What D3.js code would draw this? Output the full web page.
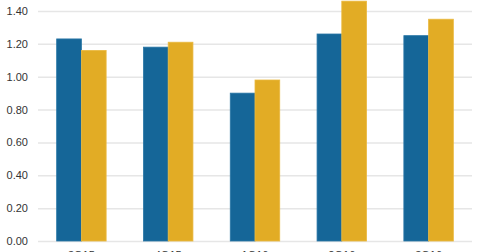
<!DOCTYPE html>
<html>
<head>
<meta charset="utf-8">
<script src="https://cdn.jsdelivr.net/npm/d3@7"></script>
<style>
  body { margin: 0; background: #fff; }
  .label { font-family: Arial, "Liberation Sans", sans-serif; font-size: 11px; fill: #333; }
</style>
</head>
<body>
<div id="chart"></div>
<script>
const quarters = ["3Q15", "4Q15", "1Q16", "2Q16", "3Q16"];
const seriesA = [1.23, 1.18, 0.90, 1.26, 1.25];
const seriesB = [1.16, 1.21, 0.98, 1.46, 1.35];
const yTicks = [0, 0.2, 0.4, 0.6, 0.8, 1.0, 1.2, 1.4];
const colors = ["#156698", "#e2ac25"];

const width = 480, height = 252;
const margin = { top: 11, right: 8, bottom: 11, left: 38 };

const svg = d3.select("#chart")
    .append("svg")
    .attr("width", width)
    .attr("height", height);

const x = d3.scaleBand()
    .domain(quarters)
    .range([margin.left, width - margin.right])
    .paddingInner(0.43)
    .paddingOuter(0.215);

const sub = d3.scaleBand()
    .domain([0, 1])
    .range([0, x.bandwidth()]);

const y = d3.scaleLinear()
    .domain([0, 1.4])
    .range([height - margin.bottom, margin.top]);

// grid + y labels
const yAxis = g => g
    .attr("transform", `translate(${margin.left},0)`)
    .call(d3.axisLeft(y).tickValues(yTicks).tickFormat(d3.format(".2f")).tickSize(-(width - margin.left - margin.right)).tickPadding(10))
    .call(g => g.select(".domain").remove())
    .call(g => g.selectAll(".tick line").attr("stroke", "#e6e6e6").attr("stroke-width", 1.5))
    .call(g => g.selectAll(".tick text").attr("class", "label"));

svg.append("g").call(yAxis);

const rows = quarters.map((q, i) => ({ q, vals: [seriesA[i], seriesB[i]] }));

svg.append("g")
    .selectAll("g")
    .data(rows)
    .join("g")
    .attr("transform", d => `translate(${x(d.q)},0)`)
    .selectAll("rect")
    .data(d => d.vals.map((v, k) => ({ v, k })))
    .join("rect")
    .attr("x", d => sub(d.k))
    .attr("y", d => y(d.v))
    .attr("width", sub.bandwidth())
    .attr("height", d => y(0) - y(d.v))
    .attr("fill", d => colors[d.k])
    .attr("stroke", d => d.k ? "#eab940" : "#2a77a6")
    .attr("stroke-width", 0.8);

const xAxis = g => g
    .attr("transform", `translate(0,${height - margin.bottom})`)
    .call(d3.axisBottom(x).tickSize(0).tickPadding(10))
    .call(g => g.select(".domain").remove())
    .call(g => g.selectAll(".tick text").attr("class", "label"));

svg.append("g").call(xAxis);
</script>
</body>
</html>
